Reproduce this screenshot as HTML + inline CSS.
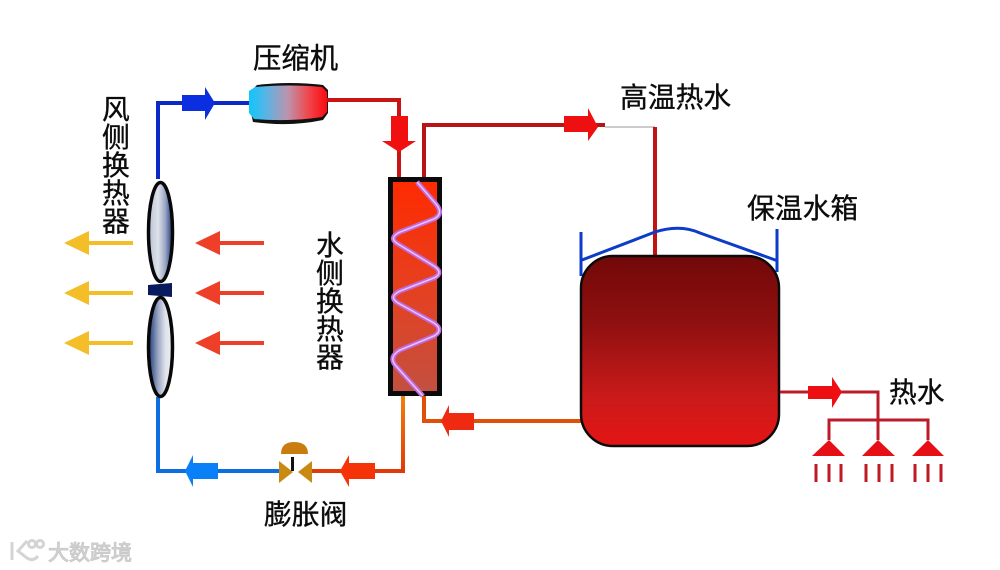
<!DOCTYPE html>
<html lang="zh">
<head>
<meta charset="utf-8">
<style>
html,body{margin:0;padding:0;background:#fff;width:1000px;height:570px;overflow:hidden}
svg{display:block;filter:blur(.35px)}
text{font-family:"Liberation Sans","Noto Sans CJK SC",sans-serif;fill:#0c0c0c;stroke:#0c0c0c;stroke-width:.35px;font-size:27.8px}
</style>
</head>
<body>
<svg width="1000" height="570" viewBox="0 0 1000 570" xmlns="http://www.w3.org/2000/svg">
<defs>
<linearGradient id="comp" x1="0" x2="1" y1="0" y2="0">
<stop offset="0" stop-color="#10c6fa"/><stop offset=".2" stop-color="#52b6e8"/><stop offset=".5" stop-color="#bd93ad"/><stop offset=".75" stop-color="#ee4a50"/><stop offset="1" stop-color="#fb0a10"/>
</linearGradient>
<linearGradient id="blade1" x1="0" x2="1" y1="0" y2="0">
<stop offset="0" stop-color="#b8c0d4"/><stop offset=".4" stop-color="#dfe2ea"/><stop offset=".7" stop-color="#9aa6c4"/><stop offset="1" stop-color="#1d3a78"/>
</linearGradient>
<linearGradient id="blade2" x1="0" x2="1" y1="0" y2="0">
<stop offset="0" stop-color="#1d3a78"/><stop offset=".4" stop-color="#9aa6c4"/><stop offset=".7" stop-color="#dfe2ea"/><stop offset="1" stop-color="#eceef3"/>
</linearGradient>
<linearGradient id="hx" x1="0" x2="0" y1="0" y2="1">
<stop offset="0" stop-color="#ff2a00"/><stop offset=".5" stop-color="#e6401f"/><stop offset="1" stop-color="#c25040"/>
</linearGradient>
<linearGradient id="tank" x1="0" x2="0" y1="0" y2="1">
<stop offset="0" stop-color="#720808"/><stop offset=".35" stop-color="#8f1010"/><stop offset=".75" stop-color="#cb1a1a"/><stop offset="1" stop-color="#e41414"/>
</linearGradient>
<linearGradient id="orange" x1="0" x2="0" y1="0" y2="1">
<stop offset="0" stop-color="#f08010"/><stop offset="1" stop-color="#e03a08"/>
</linearGradient>
</defs>

<!-- blue pipes -->
<path d="M158 179V103H250" fill="none" stroke="#0c28c8" stroke-width="4"/>
<path d="M182 95H205V87L215 103L205 120V111H182Z" fill="#0a2ee0"/>
<path d="M158 397V471H279" fill="none" stroke="#0c6ee0" stroke-width="4"/>
<path d="M185 471L193 455V463H218V479H193V487Z" fill="#0a80f8"/>

<!-- compressor -->
<path d="M252 90L257 85Q290 81 323 85L328 90V113L323 120Q290 127 253 122L251 113Z" fill="#111"/>
<path d="M249 91L255 87Q290 84 322 87L327 92V112L322 117Q290 122 254 119L249 113Z" fill="url(#comp)"/>

<!-- red pipes compressor to hx -->
<path d="M327 100H399V178" fill="none" stroke="#c81414" stroke-width="4"/>
<path d="M391 116H408V141H416L399 152L382 141H391Z" fill="#f01010"/>
<path d="M424 180V125H605" fill="none" stroke="#b81414" stroke-width="4"/>
<path d="M564 116H588V108L598 127L588 141V132H564Z" fill="#ee1010"/>
<path d="M605 127H655" stroke="#999" stroke-width="1" fill="none"/>
<path d="M655 127V256" stroke="#c01414" stroke-width="4" fill="none"/>

<!-- water-side exchanger -->
<rect x="390.500" y="179.500" width="49" height="214" fill="url(#hx)" stroke="#0a0a0a" stroke-width="5"/>
<path d="M417 182L436 204Q444 214 434 219L400 232Q388 238 398 244L434 266Q444 273 434 278L400 291Q388 297 398 303L434 323Q444 330 434 336L400 350Q388 357 396 366L423 396" fill="none" stroke="#c268dc" stroke-width="5"/>
<path d="M417 182L436 204Q444 214 434 219L400 232Q388 238 398 244L434 266Q444 273 434 278L400 291Q388 297 398 303L434 323Q444 330 434 336L400 350Q388 357 396 366L423 396" fill="none" stroke="#e9c4f2" stroke-width="1.500"/>

<!-- orange pipes -->
<path d="M424 396V421H581" fill="none" stroke="#e05008" stroke-width="4"/>
<path d="M441 421L449 405V413H474V430H449V437Z" fill="#ee2a10"/>
<path d="M403 396V471H312" fill="none" stroke="url(#orange)" stroke-width="4"/>
<path d="M340 471L349 455V463H375V479H349V487Z" fill="#f63208"/>

<!-- expansion valve -->
<path d="M281 454Q281 442 294 442Q308 442 308 454Z" fill="#c97c10"/>
<path d="M279 461L293 472L279 483Z" fill="#c88a12"/>
<path d="M312 461L298 472L312 483Z" fill="#c88a12"/>
<rect x="291" y="457" width="3" height="14" fill="#111"/>

<!-- air-side exchanger -->
<ellipse cx="160.500" cy="232" rx="12" ry="49.500" fill="url(#blade1)" stroke="#080808" stroke-width="3.500"/>
<ellipse cx="160.500" cy="347" rx="12" ry="49.500" fill="url(#blade2)" stroke="#080808" stroke-width="3.500"/>
<path d="M148 285L172 283V297L148 295Z" fill="#0a1a5e"/>

<!-- air arrows -->
<g fill="#f4be28">
<path d="M64 243L89 231V241H133V245H89V255Z"/>
<path d="M64 293L89 281V291H133V295H89V305Z"/>
<path d="M64 343L89 331V341H133V345H89V355Z"/>
</g>
<g fill="#ee3f28">
<path d="M195 243L220 231V241H264V245H220V255Z"/>
<path d="M195 293L220 281V291H264V295H220V305Z"/>
<path d="M195 343L220 331V341H264V345H220V355Z"/>
</g>

<!-- tank -->
<path d="M581 232V276M777 229V272" fill="none" stroke="#0c3cc8" stroke-width="3"/>
<path d="M582 260L655 232Q680 224 700 233L778 261" fill="none" stroke="#0c3cc8" stroke-width="3"/>
<rect x="581" y="256" width="198" height="190" rx="32" ry="32" fill="url(#tank)" stroke="#0b0b0b" stroke-width="2.500"/>

<!-- hot water output -->
<path d="M780 392H878V440M829 440V420H928V440" fill="none" stroke="#bb1c28" stroke-width="3"/>
<path d="M808 386H832V377L842 392L832 408V399H808Z" fill="#ee0f12"/>
<g fill="#e60f16">
<path d="M829 440L845 456H812Z"/>
<path d="M878 440L895 456H862Z"/>
<path d="M928 440L944 456H912Z"/>
</g>
<g stroke="#bd1a24" stroke-width="3" fill="none">
<path d="M816 464V482M829 464V482M841 464V482M866 464V482M879 464V482M892 464V482M915 464V482M928 464V482M941 464V482"/>
</g>

<!-- labels -->
<text x="253" y="68" style="font-size:28.400px">压缩机</text>
<text x="620" y="107">高温热水</text>
<text x="747" y="218">保温水箱</text>
<text x="889" y="402">热水</text>
<text x="264" y="524">膨胀阀</text>
<g>
<text x="102" y="119">风</text>
<text x="102" y="147">侧</text>
<text x="102" y="175">换</text>
<text x="102" y="203">热</text>
<text x="102" y="231">器</text>
</g>
<g>
<text x="316" y="255">水</text>
<text x="316" y="283">侧</text>
<text x="316" y="311">换</text>
<text x="316" y="339">热</text>
<text x="316" y="367">器</text>
</g>

<!-- watermark -->
<g fill="none" stroke="#d4d4d4" stroke-width="3">
<path d="M12 542V560M27 541L18 551L27 558Q33 562 38 556"/>
<circle cx="32" cy="544" r="3.500"/>
<circle cx="40" cy="544" r="3.500"/>
</g>
<text x="48" y="560" style="font-size:21px;fill:#d4d4d4;stroke:#cacaca;stroke-width:1px">大数跨境</text>
</svg>
</body>
</html>
